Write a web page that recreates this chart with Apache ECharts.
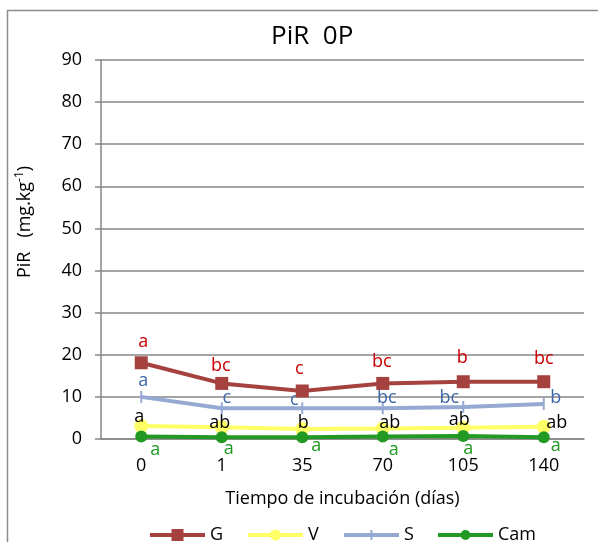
<!DOCTYPE html>
<html><head><meta charset="utf-8">
<script src="https://cdn.jsdelivr.net/npm/echarts@6/dist/echarts.min.js"></script>
<style>html,body{margin:0;padding:0;background:#fff}#c{width:598px;height:542px}</style>
</head><body><div id="c"></div>
<script>
var categories = ['0','1','35','70','105','140'];
var G = [18.1, 13.2, 11.4, 13.2, 13.6, 13.6];
var V = [3.1, 2.8, 2.4, 2.5, 2.7, 2.9];
var S = [10.0, 7.3, 7.3, 7.3, 7.6, 8.3];
var Cam = [0.6, 0.4, 0.4, 0.6, 0.7, 0.4];
var G_letters = ['a','bc','c','bc','b','bc'];
var V_letters = ['a','ab','b','ab','ab','ab'];
var S_letters = ['a','c','c','bc','bc','b'];
var Cam_letters = ['a','a','a','a','a','a'];
var seriesNames = ['G','V','S','Cam'];
var yTicks = [0,10,20,30,40,50,60,70,80,90];

var FONT = 'Open Sans';
function mk(vals, letters, color, offsets) {
  return vals.map(function (v, i) {
    return { value: v, label: { show: true, formatter: letters[i], color: color, fontSize: 18, fontFamily: FONT,
      position: 'inside', offset: offsets[i] } };
  });
}
var gOff = [[2,-21],[-1,-18],[-3,-22],[-1,-22],[-1,-24],[0,-23]];
var sOff = [[2,-16],[5,-10],[-8,-8],[4,-10],[-14,-9],[12,-6]];
var vOff = [[-2,-9],[-2,-4],[1,-6],[7,-6],[-4,-8],[13,-4]];
var cOff = [[14,13],[7,12],[14,9],[11,13],[5,13],[12,9]];
var legendLeft = [150, 248, 344, 438];
var LINE = 'M0,4L55,4L55,8L0,8Z ';
var legendIcons = [
  'path://' + LINE + 'M21.5,0L33.5,0L33.5,12L21.5,12Z',
  'path://' + LINE + 'M22,6A5.5,5.5 0 0,1 33,6A5.5,5.5 0 0,1 22,6Z M0,0L0.01,0L0.01,0.01Z M55,12L54.99,12L54.99,11.99Z',
  'path://' + LINE + 'M26.5,1L28.5,1L28.5,11L26.5,11Z M0,0L0.01,0L0.01,0.01Z M55,12L54.99,12L54.99,11.99Z',
  'path://' + LINE + 'M22.5,6A5,5 0 0,1 32.5,6A5,5 0 0,1 22.5,6Z M0,0L0.01,0L0.01,0.01Z M55,12L54.99,12L54.99,11.99Z'
];

var chart = echarts.init(document.getElementById('c'));
chart.setOption({
  animation: false,
  textStyle: { fontFamily: FONT },
  graphic: [
    { type: 'rect', shape: { x: 7.5, y: 10.5, width: 800, height: 800 },
      style: { fill: 'none', stroke: '#8c8c8c', lineWidth: 1.5 }, z: -1 },
    { type: 'text', x: 25, y: 222, rotation: Math.PI / 2,
      style: { text: '{n|PiR   (mg.kg}{s|-1}{n|)}', align: 'center', verticalAlign: 'middle',
        rich: { n: { fontSize: 18, fill: '#000', fontFamily: FONT }, s: { fontSize: 12, fill: '#000', fontFamily: FONT, padding: [0,0,10,0] } } } }
  ],
  title: { text: 'PiR  0P', left: 266, top: 19, textStyle: { fontSize: 26, fontWeight: 'normal', color: '#000', fontFamily: FONT } },
  grid: { left: 101, right: 14, top: 60, bottom: 103 },
  legend: seriesNames.map(function (n, i) {
    return { top: 526, left: legendLeft[i], padding: 0, itemWidth: 55, itemHeight: 12,
      textStyle: { fontSize: 18, color: '#000', fontFamily: FONT }, data: [{ name: n, icon: legendIcons[i] }] };
  }),
  xAxis: { type: 'category', data: categories, boundaryGap: true,
    name: 'Tiempo de incubación (días)', nameLocation: 'middle', nameGap: 51,
    nameTextStyle: { fontSize: 18, color: '#000', fontFamily: FONT },
    axisLine: { lineStyle: { color: '#868686', width: 1.5 } }, axisTick: { show: false },
    axisLabel: { fontSize: 18, color: '#000', margin: 18, fontFamily: FONT } },
  yAxis: { type: 'value', min: yTicks[0], max: yTicks[yTicks.length-1], interval: 10,
    axisLine: { show: true, lineStyle: { color: '#868686', width: 1.5 } },
    axisTick: { show: true, length: 6, lineStyle: { color: '#868686', width: 1.5 } },
    splitLine: { lineStyle: { color: '#868686', width: 1.5 } },
    axisLabel: { fontSize: 18, color: '#000', margin: 19, fontFamily: FONT } },
  series: [
    { name: 'G', type: 'line', data: mk(G, G_letters, '#cc0000', gOff), symbol: 'rect', symbolSize: 13,
      itemStyle: { color: '#a5423f' }, lineStyle: { color: '#a5423f', width: 4 }, z: 4 },
    { name: 'V', type: 'line', data: mk(V, V_letters, '#000000', vOff), symbol: 'circle', symbolSize: 14,
      itemStyle: { color: '#ffff66' }, lineStyle: { color: '#ffff66', width: 4 }, z: 2 },
    { name: 'S', type: 'line', data: mk(S, S_letters, '#3f67a8', sOff), symbol: 'rect', symbolSize: [2, 12],
      itemStyle: { color: '#95a9d3' }, lineStyle: { color: '#95a9d3', width: 4 }, z: 3 },
    { name: 'Cam', type: 'line', data: mk(Cam, Cam_letters, '#1e9a1e', cOff), symbol: 'circle', symbolSize: 12,
      itemStyle: { color: '#229922' }, lineStyle: { color: '#229922', width: 4 }, z: 3 }
  ]
});
</script></body></html>
